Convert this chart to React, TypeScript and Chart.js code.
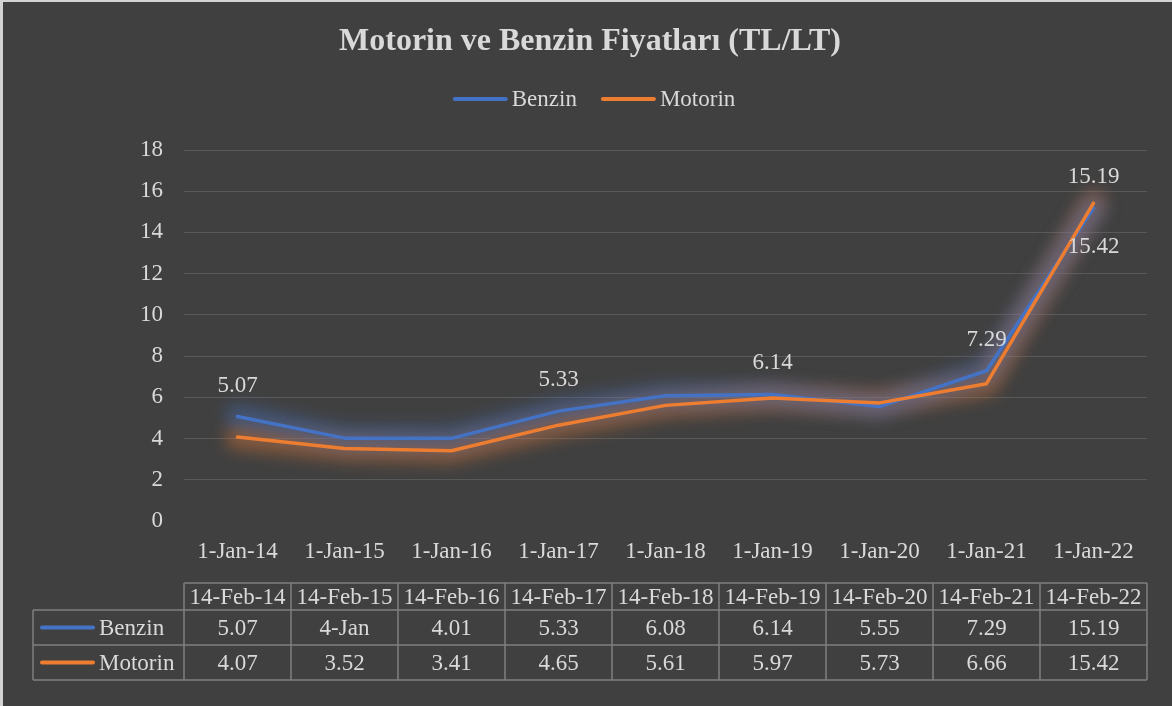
import React, { useEffect, useRef } from "react";
import { Chart, registerables } from "chart.js";

Chart.register(...registerables);

const categories = ["1-Jan-14", "1-Jan-15", "1-Jan-16", "1-Jan-17", "1-Jan-18", "1-Jan-19", "1-Jan-20", "1-Jan-21", "1-Jan-22"];
const tableHeaders = ["14-Feb-14", "14-Feb-15", "14-Feb-16", "14-Feb-17", "14-Feb-18", "14-Feb-19", "14-Feb-20", "14-Feb-21", "14-Feb-22"];
const benzin = [5.07, 4.02, 4.01, 5.33, 6.08, 6.14, 5.55, 7.29, 15.19];
const motorin = [4.07, 3.52, 3.41, 4.65, 5.61, 5.97, 5.73, 6.66, 15.42];
const benzinTableText = ["5.07", "4-Jan", "4.01", "5.33", "6.08", "6.14", "5.55", "7.29", "15.19"];
const motorinTableText = ["4.07", "3.52", "3.41", "4.65", "5.61", "5.97", "5.73", "6.66", "15.42"];
const benzinLabelIdx = [0, 3, 5, 7, 8];
const motorinLabelIdx = [8];
const seriesNames = ["Benzin", "Motorin"];
const titleText = "Motorin ve Benzin Fiyatları (TL/LT)";

const BLUE = "#4472C4";
const ORANGE = "#ED7D31";
const BG = "#404040";
const TEXT = "#d9d9d9";
const FONT = '"Liberation Serif", "Times New Roman", Times, serif';

function rgba(hex: string, a: number) {
  const n = parseInt(hex.slice(1), 16);
  return `rgba(${(n >> 16) & 255},${(n >> 8) & 255},${n & 255},${a})`;
}

const decorPlugin = {
  id: "decor",
  beforeDraw(chart: any) {
    const { ctx, width, height } = chart;
    ctx.save();
    ctx.fillStyle = BG;
    ctx.fillRect(0, 0, width, height);
    ctx.fillStyle = "#d4d4d4";
    ctx.fillRect(0, 0, width, 2);
    ctx.fillRect(0, 0, 3, height);
    ctx.restore();
  },
  beforeDatasetsDraw(chart: any) {
    const ctx = chart.ctx;
    [1, 0].forEach((di) => {
      const ds = chart.data.datasets[di];
      const pts = chart.getDatasetMeta(di).data;
      ctx.save();
      ctx.filter = "blur(8px)";
      ctx.strokeStyle = rgba(ds.borderColor, 0.42);
      ctx.lineWidth = 24;
      ctx.lineJoin = "round";
      ctx.lineCap = "round";
      ctx.beginPath();
      pts.forEach((p: any, i: number) => (i === 0 ? ctx.moveTo(p.x, p.y) : ctx.lineTo(p.x, p.y)));
      ctx.stroke();
      ctx.restore();
    });
  },
  afterDatasetsDraw(chart: any) {
    const ctx = chart.ctx;
    ctx.save();
    ctx.font = `23px ${FONT}`;
    ctx.fillStyle = TEXT;
    ctx.textAlign = "center";
    ctx.textBaseline = "middle";
    const m0 = chart.getDatasetMeta(0);
    benzinLabelIdx.forEach((i) => {
      const p = m0.data[i];
      ctx.fillText(benzin[i].toFixed(2), p.x, p.y - 31);
    });
    const m1 = chart.getDatasetMeta(1);
    motorinLabelIdx.forEach((i) => {
      const p = m1.data[i];
      ctx.fillText(motorin[i].toFixed(2), p.x, p.y + 44);
    });
    ctx.restore();
  },
  afterDraw(chart: any) {
    const ctx = chart.ctx;
    const xs = chart.scales.x;
    const area = chart.chartArea;
    ctx.save();
    ctx.font = `bold 32px ${FONT}`;
    ctx.fillStyle = TEXT;
    ctx.textAlign = "center";
    ctx.textBaseline = "middle";
    ctx.fillText(titleText, 590, 42);

    ctx.font = `23px ${FONT}`;
    const colors = [BLUE, ORANGE];
    const lineLen = 55;
    const gapText = 4;
    const gapItem = 24;
    const widths = seriesNames.map((s) => ctx.measureText(s).width);
    const total = widths.reduce((a, w) => a + lineLen + gapText + w, 0) + gapItem;
    let lx = 594 - total / 2;
    const ly = 99;
    ctx.textAlign = "left";
    seriesNames.forEach((s, k) => {
      ctx.strokeStyle = colors[k];
      ctx.lineWidth = 4;
      ctx.lineCap = "round";
      ctx.beginPath();
      ctx.moveTo(lx + 2, ly);
      ctx.lineTo(lx + lineLen - 2, ly);
      ctx.stroke();
      ctx.fillStyle = TEXT;
      ctx.fillText(s, lx + lineLen + gapText, ly + 1);
      lx += lineLen + gapText + widths[k] + gapItem;
    });

    const n = categories.length;
    const binW = (area.right - area.left) / n;
    const top = 583;
    const headH = 27;
    const rowH = 35;
    const legLeft = 33;
    const r1 = top + headH;
    const r2 = r1 + rowH;
    const r3 = r2 + rowH;
    ctx.strokeStyle = "#7f7f7f";
    ctx.lineWidth = 1.5;
    ctx.lineCap = "butt";
    ctx.beginPath();
    ctx.moveTo(area.left, top);
    ctx.lineTo(area.right, top);
    ctx.moveTo(legLeft, r1);
    ctx.lineTo(area.right, r1);
    ctx.moveTo(legLeft, r2);
    ctx.lineTo(area.right, r2);
    ctx.moveTo(legLeft, r3);
    ctx.lineTo(area.right, r3);
    ctx.moveTo(legLeft, r1);
    ctx.lineTo(legLeft, r3);
    for (let i = 0; i <= n; i++) {
      const x = area.left + i * binW;
      ctx.moveTo(x, top);
      ctx.lineTo(x, r3);
    }
    ctx.stroke();

    ctx.textAlign = "center";
    ctx.fillStyle = TEXT;
    for (let i = 0; i < n; i++) {
      const cx = xs.getPixelForValue(i);
      ctx.fillText(tableHeaders[i], cx, top + headH / 2 + 1);
      ctx.fillText(benzinTableText[i], cx, r1 + rowH / 2 + 1);
      ctx.fillText(motorinTableText[i], cx, r2 + rowH / 2 + 1);
    }
    ctx.textAlign = "left";
    [r1, r2].forEach((ry, k) => {
      const cy = ry + rowH / 2;
      ctx.strokeStyle = colors[k];
      ctx.lineWidth = 4;
      ctx.lineCap = "round";
      ctx.beginPath();
      ctx.moveTo(42, cy);
      ctx.lineTo(93, cy);
      ctx.stroke();
      ctx.fillStyle = TEXT;
      ctx.fillText(seriesNames[k], 99, cy + 1);
    });
    ctx.restore();
  },
};

export default function App() {
  const ref = useRef<HTMLCanvasElement>(null);
  useEffect(() => {
    document.body.style.margin = "0";
    const chart = new Chart(ref.current as HTMLCanvasElement, {
      type: "line",
      data: {
        labels: categories,
        datasets: [
          {
            label: seriesNames[0],
            data: benzin,
            borderColor: BLUE,
            backgroundColor: BLUE,
            borderWidth: 3.5,
            pointRadius: 0,
            tension: 0,
            borderCapStyle: "round",
            borderJoinStyle: "round",
            order: 1,
          },
          {
            label: seriesNames[1],
            data: motorin,
            borderColor: ORANGE,
            backgroundColor: ORANGE,
            borderWidth: 3.5,
            pointRadius: 0,
            tension: 0,
            borderCapStyle: "round",
            borderJoinStyle: "round",
            order: 0,
          },
        ],
      },
      options: {
        responsive: false,
        animation: false,
        layout: { padding: { left: 134, top: 150, right: 25, bottom: 115 } },
        plugins: {
          legend: { display: false },
          title: { display: false },
          tooltip: { enabled: false },
        },
        scales: {
          x: {
            offset: true,
            grid: { display: false },
            border: { display: false },
            ticks: { color: TEXT, font: { family: FONT, size: 23 }, padding: 9, maxRotation: 0, autoSkip: false },
            afterFit: (s: any) => {
              s.height = 70;
            },
          },
          y: {
            min: 0,
            max: 18,
            grid: {
              drawTicks: false,
              color: (c: any) => (c.tick && c.tick.value === 0 ? "rgba(0,0,0,0)" : "#595959"),
              lineWidth: 1,
            },
            border: { display: false },
            ticks: { stepSize: 2, color: TEXT, font: { family: FONT, size: 23 }, padding: 21 },
            afterFit: (s: any) => {
              s.width = 50;
            },
          },
        },
      },
      plugins: [decorPlugin],
    } as any);
    return () => chart.destroy();
  }, []);
  return (
    <div style={{ width: 1172, height: 706 }}>
      <canvas ref={ref} width={1172} height={706} style={{ display: "block" }} />
    </div>
  );
}
